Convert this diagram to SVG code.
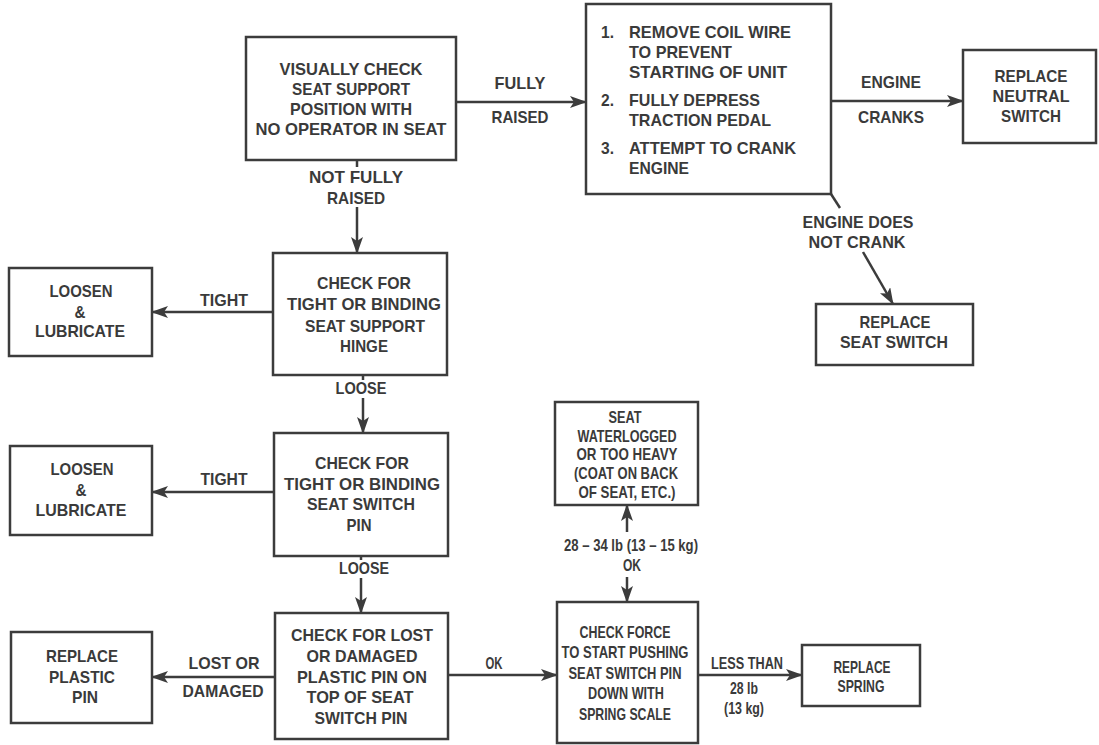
<svg xmlns="http://www.w3.org/2000/svg" width="1099" height="745" viewBox="0 0 1099 745">
<defs>
<style>
.box{fill:none;stroke:#3c3c3c;stroke-width:2.5}
.ln{fill:none;stroke:#3c3c3c;stroke-width:2.5}
.t{font-family:"Liberation Sans",Arial,sans-serif;font-weight:bold;font-size:17px;fill:#3a3a3a;text-anchor:middle}
.tl{text-anchor:start}
</style>
<marker id="ah" markerUnits="userSpaceOnUse" markerWidth="17" markerHeight="12" refX="16" refY="6" orient="auto">
<path d="M0,0 L17,6 L0,12 L4,6 z" fill="#3c3c3c"/>
</marker>
</defs>
<rect width="1099" height="745" fill="#ffffff"/>

<g id="connectors">
<line class="ln" x1="456" y1="102" x2="586" y2="102" marker-end="url(#ah)"/>
<line class="ln" x1="831" y1="101" x2="963" y2="101" marker-end="url(#ah)"/>
<line class="ln" x1="831" y1="194" x2="840" y2="208"/>
<line class="ln" x1="863" y1="252" x2="893" y2="304" marker-end="url(#ah)"/>
<line class="ln" x1="357" y1="160" x2="357" y2="167"/>
<line class="ln" x1="357" y1="207" x2="357" y2="253" marker-end="url(#ah)"/>
<line class="ln" x1="273" y1="312" x2="152" y2="312" marker-end="url(#ah)"/>
<line class="ln" x1="363" y1="375" x2="363" y2="380"/>
<line class="ln" x1="363" y1="398" x2="363" y2="433" marker-end="url(#ah)"/>
<line class="ln" x1="274" y1="492" x2="152" y2="492" marker-end="url(#ah)"/>
<line class="ln" x1="361" y1="556" x2="361" y2="560"/>
<line class="ln" x1="361" y1="578" x2="361" y2="613" marker-end="url(#ah)"/>
<line class="ln" x1="275" y1="677" x2="152" y2="677" marker-end="url(#ah)"/>
<line class="ln" x1="448" y1="675" x2="557" y2="675" marker-end="url(#ah)"/>
<line class="ln" x1="627" y1="532" x2="627" y2="505" marker-end="url(#ah)"/>
<line class="ln" x1="627" y1="577" x2="627" y2="602" marker-end="url(#ah)"/>
<line class="ln" x1="698" y1="675" x2="802" y2="675" marker-end="url(#ah)"/>
<text class="t" x="520" y="89" textLength="51" lengthAdjust="spacingAndGlyphs">FULLY</text>
<text class="t" x="520" y="123" textLength="57" lengthAdjust="spacingAndGlyphs">RAISED</text>
<text class="t" x="891" y="88" textLength="60" lengthAdjust="spacingAndGlyphs">ENGINE</text>
<text class="t" x="891" y="123" textLength="66" lengthAdjust="spacingAndGlyphs">CRANKS</text>
<text class="t" x="858" y="228" textLength="111" lengthAdjust="spacingAndGlyphs">ENGINE DOES</text>
<text class="t" x="857" y="248" textLength="97" lengthAdjust="spacingAndGlyphs">NOT CRANK</text>
<text class="t" x="356" y="183" textLength="94" lengthAdjust="spacingAndGlyphs">NOT FULLY</text>
<text class="t" x="356" y="204" textLength="58" lengthAdjust="spacingAndGlyphs">RAISED</text>
<text class="t" x="224" y="306" textLength="48" lengthAdjust="spacingAndGlyphs">TIGHT</text>
<text class="t" x="361" y="394" textLength="51" lengthAdjust="spacingAndGlyphs">LOOSE</text>
<text class="t" x="224" y="485" textLength="47" lengthAdjust="spacingAndGlyphs">TIGHT</text>
<text class="t" x="364" y="574" textLength="50" lengthAdjust="spacingAndGlyphs">LOOSE</text>
<text class="t" x="224" y="669" textLength="71" lengthAdjust="spacingAndGlyphs">LOST OR</text>
<text class="t" x="223" y="697" textLength="81" lengthAdjust="spacingAndGlyphs">DAMAGED</text>
<text class="t" x="494" y="669" textLength="17" lengthAdjust="spacingAndGlyphs">OK</text>
<text class="t" x="631" y="551" textLength="134" lengthAdjust="spacingAndGlyphs">28 – 34 lb (13 – 15 kg)</text>
<text class="t" x="632" y="571" textLength="18" lengthAdjust="spacingAndGlyphs">OK</text>
<text class="t" x="747" y="669" textLength="72" lengthAdjust="spacingAndGlyphs">LESS THAN</text>
<text class="t" x="744" y="694" textLength="28" lengthAdjust="spacingAndGlyphs">28 lb</text>
<text class="t" x="744" y="714" textLength="40" lengthAdjust="spacingAndGlyphs">(13 kg)</text>
</g>

<g id="n_visual">
<rect class="box" x="246" y="37" width="210" height="123"/>
<text class="t" x="351" y="75" textLength="143" lengthAdjust="spacingAndGlyphs">VISUALLY CHECK</text>
<text class="t" x="351" y="95" textLength="118" lengthAdjust="spacingAndGlyphs">SEAT SUPPORT</text>
<text class="t" x="351" y="115" textLength="122" lengthAdjust="spacingAndGlyphs">POSITION WITH</text>
<text class="t" x="351" y="135" textLength="191" lengthAdjust="spacingAndGlyphs">NO OPERATOR IN SEAT</text>
</g>

<g id="n_steps">
<rect class="box" x="586" y="4" width="245" height="190"/>
<text class="t tl" x="601" y="38" textLength="13" lengthAdjust="spacingAndGlyphs">1.</text>
<text class="t tl" x="629" y="38" textLength="162" lengthAdjust="spacingAndGlyphs">REMOVE COIL WIRE</text>
<text class="t tl" x="629" y="58" textLength="103" lengthAdjust="spacingAndGlyphs">TO PREVENT</text>
<text class="t tl" x="629" y="78" textLength="158" lengthAdjust="spacingAndGlyphs">STARTING OF UNIT</text>
<text class="t tl" x="601" y="106" textLength="13" lengthAdjust="spacingAndGlyphs">2.</text>
<text class="t tl" x="629" y="106" textLength="131" lengthAdjust="spacingAndGlyphs">FULLY DEPRESS</text>
<text class="t tl" x="629" y="126" textLength="142" lengthAdjust="spacingAndGlyphs">TRACTION PEDAL</text>
<text class="t tl" x="601" y="154" textLength="13" lengthAdjust="spacingAndGlyphs">3.</text>
<text class="t tl" x="629" y="154" textLength="167" lengthAdjust="spacingAndGlyphs">ATTEMPT TO CRANK</text>
<text class="t tl" x="629" y="174" textLength="60" lengthAdjust="spacingAndGlyphs">ENGINE</text>
</g>

<g id="n_neutral">
<rect class="box" x="963" y="50" width="133" height="93"/>
<text class="t" x="1031" y="82" textLength="73" lengthAdjust="spacingAndGlyphs">REPLACE</text>
<text class="t" x="1031" y="102" textLength="77" lengthAdjust="spacingAndGlyphs">NEUTRAL</text>
<text class="t" x="1031" y="122" textLength="60" lengthAdjust="spacingAndGlyphs">SWITCH</text>
</g>

<g id="n_seatswitch">
<rect class="box" x="816" y="304" width="157" height="61"/>
<text class="t" x="895" y="328" textLength="71" lengthAdjust="spacingAndGlyphs">REPLACE</text>
<text class="t" x="894" y="348" textLength="108" lengthAdjust="spacingAndGlyphs">SEAT SWITCH</text>
</g>

<g id="n_hinge">
<rect class="box" x="273" y="253" width="174" height="122"/>
<text class="t" x="364" y="289" textLength="94" lengthAdjust="spacingAndGlyphs">CHECK FOR</text>
<text class="t" x="364" y="310" textLength="154" lengthAdjust="spacingAndGlyphs">TIGHT OR BINDING</text>
<text class="t" x="365" y="332" textLength="120" lengthAdjust="spacingAndGlyphs">SEAT SUPPORT</text>
<text class="t" x="364" y="352" textLength="48" lengthAdjust="spacingAndGlyphs">HINGE</text>
</g>

<g id="n_loosen1">
<rect class="box" x="9" y="268" width="143" height="88"/>
<text class="t" x="81" y="297" textLength="63" lengthAdjust="spacingAndGlyphs">LOOSEN</text>
<text class="t" x="80" y="318" textLength="11" lengthAdjust="spacingAndGlyphs">&amp;</text>
<text class="t" x="80" y="337" textLength="90" lengthAdjust="spacingAndGlyphs">LUBRICATE</text>
</g>

<g id="n_pin">
<rect class="box" x="274" y="433" width="174" height="123"/>
<text class="t" x="362" y="469" textLength="94" lengthAdjust="spacingAndGlyphs">CHECK FOR</text>
<text class="t" x="362" y="490" textLength="156" lengthAdjust="spacingAndGlyphs">TIGHT OR BINDING</text>
<text class="t" x="361" y="510" textLength="108" lengthAdjust="spacingAndGlyphs">SEAT SWITCH</text>
<text class="t" x="359" y="531" textLength="25" lengthAdjust="spacingAndGlyphs">PIN</text>
</g>

<g id="n_loosen2">
<rect class="box" x="10" y="446" width="142" height="89"/>
<text class="t" x="82" y="475" textLength="63" lengthAdjust="spacingAndGlyphs">LOOSEN</text>
<text class="t" x="81" y="496" textLength="11" lengthAdjust="spacingAndGlyphs">&amp;</text>
<text class="t" x="81" y="516" textLength="91" lengthAdjust="spacingAndGlyphs">LUBRICATE</text>
</g>

<g id="n_plastic">
<rect class="box" x="275" y="613" width="173" height="126"/>
<text class="t" x="362" y="641" textLength="142" lengthAdjust="spacingAndGlyphs">CHECK FOR LOST</text>
<text class="t" x="362" y="662" textLength="111" lengthAdjust="spacingAndGlyphs">OR DAMAGED</text>
<text class="t" x="362" y="683" textLength="130" lengthAdjust="spacingAndGlyphs">PLASTIC PIN ON</text>
<text class="t" x="360" y="703" textLength="107" lengthAdjust="spacingAndGlyphs">TOP OF SEAT</text>
<text class="t" x="361" y="724" textLength="93" lengthAdjust="spacingAndGlyphs">SWITCH PIN</text>
</g>

<g id="n_replacepin">
<rect class="box" x="11" y="632" width="141" height="91"/>
<text class="t" x="82" y="662" textLength="72" lengthAdjust="spacingAndGlyphs">REPLACE</text>
<text class="t" x="82" y="683" textLength="66" lengthAdjust="spacingAndGlyphs">PLASTIC</text>
<text class="t" x="85" y="703" textLength="26" lengthAdjust="spacingAndGlyphs">PIN</text>
</g>

<g id="n_force">
<rect class="box" x="557" y="602" width="141" height="141"/>
<text class="t" x="625" y="638" textLength="91" lengthAdjust="spacingAndGlyphs">CHECK FORCE</text>
<text class="t" x="625" y="658" textLength="127" lengthAdjust="spacingAndGlyphs">TO START PUSHING</text>
<text class="t" x="625" y="679" textLength="113" lengthAdjust="spacingAndGlyphs">SEAT SWITCH PIN</text>
<text class="t" x="626" y="699" textLength="76" lengthAdjust="spacingAndGlyphs">DOWN WITH</text>
<text class="t" x="625" y="720" textLength="92" lengthAdjust="spacingAndGlyphs">SPRING SCALE</text>
</g>

<g id="n_waterlogged">
<rect class="box" x="555" y="402" width="143" height="103"/>
<text class="t" x="625" y="423" textLength="33" lengthAdjust="spacingAndGlyphs">SEAT</text>
<text class="t" x="627" y="442" textLength="99" lengthAdjust="spacingAndGlyphs">WATERLOGGED</text>
<text class="t" x="627" y="460" textLength="101" lengthAdjust="spacingAndGlyphs">OR TOO HEAVY</text>
<text class="t" x="626" y="479" textLength="104" lengthAdjust="spacingAndGlyphs">(COAT ON BACK</text>
<text class="t" x="627" y="498" textLength="97" lengthAdjust="spacingAndGlyphs">OF SEAT, ETC.)</text>
</g>

<g id="n_spring">
<rect class="box" x="802" y="645" width="118" height="61"/>
<text class="t" x="862" y="673" textLength="57" lengthAdjust="spacingAndGlyphs">REPLACE</text>
<text class="t" x="861" y="692" textLength="47" lengthAdjust="spacingAndGlyphs">SPRING</text>
</g>
</svg>
